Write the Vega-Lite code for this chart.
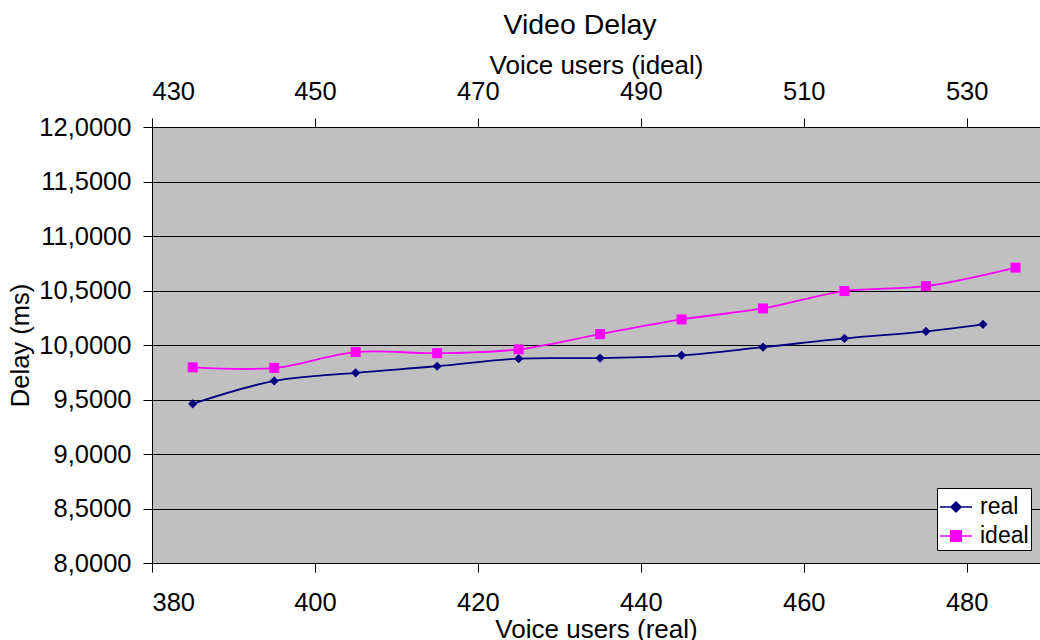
{
  "$schema": "https://vega.github.io/schema/vega-lite/v6.json",
  "autosize": "none",
  "width": 888,
  "height": 436,
  "padding": {"left": 152, "top": 127, "right": 0, "bottom": 77},
  "background": "white",
  "config": {
    "font": "Liberation Sans",
    "view": {"fill": "#C0C0C0", "stroke": null},
    "axis": {"labelFont": "Liberation Sans", "titleFont": "Liberation Sans", "labelFontSize": 25.5, "titleFontSize": 26, "labelColor": "black", "titleColor": "black", "titleFontWeight": "normal", "domainColor": "black", "tickColor": "black", "domainWidth": 1, "tickWidth": 1}
  },
  "title": {"text": "Video Delay", "fontSize": 28.5, "fontWeight": "normal", "font": "Liberation Sans", "color": "black", "dx": -16, "offset": 13},
  "data": {"values": [
    {"series": "real", "users": 385, "delay": 9.46},
    {"series": "real", "users": 395, "delay": 9.67},
    {"series": "real", "users": 405, "delay": 9.745},
    {"series": "real", "users": 415, "delay": 9.805},
    {"series": "real", "users": 425, "delay": 9.875},
    {"series": "real", "users": 435, "delay": 9.88},
    {"series": "real", "users": 445, "delay": 9.905},
    {"series": "real", "users": 455, "delay": 9.98},
    {"series": "real", "users": 465, "delay": 10.06},
    {"series": "real", "users": 475, "delay": 10.125},
    {"series": "real", "users": 482, "delay": 10.19},
    {"series": "ideal", "users": 435, "delay": 9.795},
    {"series": "ideal", "users": 445, "delay": 9.79},
    {"series": "ideal", "users": 455, "delay": 9.935},
    {"series": "ideal", "users": 465, "delay": 9.925},
    {"series": "ideal", "users": 475, "delay": 9.96},
    {"series": "ideal", "users": 485, "delay": 10.1},
    {"series": "ideal", "users": 495, "delay": 10.235},
    {"series": "ideal", "users": 505, "delay": 10.335},
    {"series": "ideal", "users": 515, "delay": 10.495},
    {"series": "ideal", "users": 525, "delay": 10.54},
    {"series": "ideal", "users": 536, "delay": 10.71}
  ]},
  "encoding": {
    "y": {"field": "delay", "type": "quantitative", "scale": {"domain": [8, 12], "nice": false, "zero": false},
      "axis": {"title": "Delay (ms)", "titleFontSize": 25.5, "values": [8, 8.5, 9, 9.5, 10, 10.5, 11, 11.5, 12], "labelExpr": "replace(format(datum.value, '.4f'), '.', ',')", "grid": true, "gridColor": "black", "gridOpacity": 1, "gridWidth": 1, "tickSize": 9, "labelPadding": 12, "titlePadding": 5}},
    "color": {"field": "series", "type": "nominal", "scale": {"domain": ["real", "ideal"], "range": ["#000080", "#FF00FF"]},
      "legend": {"title": null, "orient": "none", "legendX": 785, "legendY": 361, "fillColor": "white", "strokeColor": "black", "padding": 2, "labelFontSize": 23, "labelFont": "Liberation Sans", "labelColor": "black", "labelOffset": 7, "symbolSize": 1024, "symbolStrokeWidth": 1.5, "rowPadding": 0,
        "encode": {"symbols": {"update": {
          "shape": {"signal": "datum.value === 'real' ? 'M-1,0H1M0,-0.31L0.31,0L0,0.31L-0.31,0Z' : 'M-1,0H1M-0.33,-0.33H0.33V0.33H-0.33Z'"},
          "fill": {"signal": "datum.value === 'real' ? '#000080' : '#FF00FF'"},
          "stroke": {"signal": "datum.value === 'real' ? '#000080' : '#FF00FF'"},
          "opacity": {"value": 1}
        }}}}}
  },
  "layer": [
    {
      "transform": [{"filter": "datum.series === 'real'"}],
      "encoding": {
        "x": {"field": "users", "type": "quantitative", "scale": {"domain": [380, 489], "nice": false, "zero": false},
          "axis": {"orient": "bottom", "title": "Voice users (real)", "values": [380, 400, 420, 440, 460, 480], "grid": false, "tickSize": 9, "labelPadding": 18.5, "titlePadding": 0}}
      },
      "layer": [
        {"mark": {"type": "line", "interpolate": "catmull-rom", "strokeWidth": 1.8}},
        {"mark": {"type": "point", "shape": "diamond", "filled": true, "size": 85, "opacity": 1}}
      ]
    },
    {
      "transform": [{"filter": "datum.series === 'ideal'"}],
      "encoding": {
        "x": {"field": "users", "type": "quantitative", "scale": {"domain": [430, 539], "nice": false, "zero": false},
          "axis": {"orient": "top", "title": "Voice users (ideal)", "values": [430, 450, 470, 490, 510, 530], "grid": false, "tickSize": 9, "domain": false, "labelPadding": 13.5, "titlePadding": 1}}
      },
      "layer": [
        {"mark": {"type": "line", "interpolate": "catmull-rom", "strokeWidth": 1.8}},
        {"mark": {"type": "point", "shape": "square", "filled": true, "size": 100, "opacity": 1}}
      ]
    }
  ],
  "resolve": {"scale": {"x": "independent"}, "axis": {"x": "independent"}}
}
